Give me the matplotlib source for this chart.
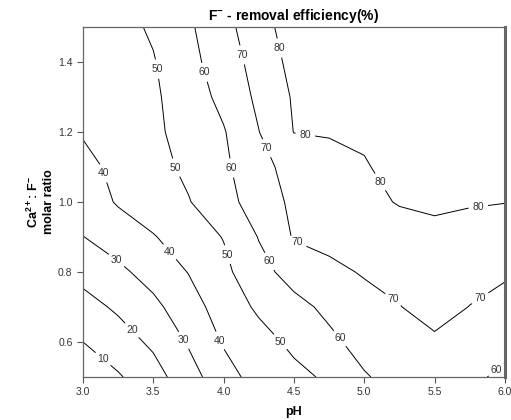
import numpy as np
import matplotlib
matplotlib.use("Agg")
import matplotlib.pyplot as plt

plt.rcParams['font.family'] = ['Liberation Sans', 'DejaVu Sans']
plt.rcParams['mathtext.default'] = 'regular'

# grid
ph = [3.0, 3.25, 3.5, 3.75, 4.0, 4.25, 4.5, 4.75, 5.0, 5.25, 5.5, 5.75, 6.0]
ratio = [0.5, 0.6, 0.7, 0.8, 0.9, 1.0, 1.1, 1.2, 1.3, 1.4, 1.5]
efficiency = [
    [2, 9, 16, 26, 36, 44, 47.5, 51.5, 59.3, 63, 65, 62, 58],
    [10, 15.6, 21.8, 30.9, 40.9, 46.4, 52.1, 58.1, 63, 66, 68.5, 67, 63],
    [16.5, 21.5, 27.6, 35.8, 44.4, 51.6, 57.3, 62, 65.8, 69.7, 73.5, 69.8, 66],
    [23.1, 27.9, 33.8, 40.3, 47.6, 57, 63.5, 67.1, 71, 73, 75.5, 73.5, 71.6],
    [29.8, 34.6, 39.4, 44.8, 50.4, 60.4, 70.8, 73.5, 75, 76.5, 78, 77.5, 77.5],
    [34.5, 40.9, 45.2, 49.5, 56.1, 65.1, 71.8, 74.8, 77.9, 80.5, 81.3, 80.5, 80.1],
    [37.5, 42.2, 46.9, 51.9, 57.9, 67.6, 72.8, 76.2, 79.4, 82.5, 84, 84, 84],
    [40.7, 44.5, 48.3, 53.3, 59.3, 69.8, 80.2, 80.8, 81.2, 84, 86, 86, 86],
    [42.5, 45.5, 48.5, 55, 62.6, 72, 81, 83, 84.5, 86, 88, 88, 88],
    [43.5, 46.5, 49.4, 57, 65, 73.7, 83, 85, 86.5, 88, 89.5, 89.5, 89.5],
    [44, 47, 51.2, 58.5, 66.9, 75.9, 85, 87, 88, 89.5, 91, 91, 91],
]
levels = [10, 20, 30, 40, 50, 60, 70, 80]

# where the reference puts its inline labels
label_spots = [
    (3.14, 0.55), (3.35, 0.634), (3.24, 0.834), (3.72, 0.606),
    (3.13, 1.08), (3.61, 0.855), (3.95, 0.60),
    (3.53, 1.38), (3.67, 1.10), (4.03, 0.85), (4.41, 0.603),
    (3.86, 1.37), (4.09, 1.10), (4.31, 0.827), (4.82, 0.608), (5.92, 0.53),
    (4.13, 1.42), (4.28, 1.149), (4.52, 0.88), (5.21, 0.724), (5.81, 0.734),
    (4.40, 1.44), (4.58, 1.19), (5.08, 1.049), (5.81, 0.99),
]


def main():
    X, Y = np.meshgrid(ph, ratio)
    Z = np.array(efficiency)

    fig = plt.figure(figsize=(5.11, 4.20), dpi=100)
    ax = fig.add_axes([0.1624, 0.1024, 0.8256, 0.8333])

    cs = ax.contour(X, Y, Z, levels=levels, colors='black', linewidths=0.7)
    labels = ax.clabel(cs, fmt='%d', fontsize=7.5, inline=True,
                       inline_spacing=4, manual=label_spots)
    for t in labels:
        t.set_color('#333333')
        t.set_rotation(0)

    ax.set_xlim(3.0, 6.0)
    ax.set_ylim(0.5, 1.5)
    ax.set_xticks([3.0, 3.5, 4.0, 4.5, 5.0, 5.5, 6.0])
    ax.set_yticks([0.6, 0.8, 1.0, 1.2, 1.4])
    ax.tick_params(direction='out', length=4, width=0.8, labelsize=7.5,
                   colors='#555555', labelcolor='#333333')

    for side in ['top', 'left', 'bottom']:
        ax.spines[side].set_color('#666666')
        ax.spines[side].set_linewidth(0.9)
    ax.spines['right'].set_color('#666666')
    ax.spines['right'].set_linewidth(2.2)

    ax.set_title('F$^{-}$ - removal efficiency(%)', fontsize=10,
                 fontweight='bold', pad=5)
    ax.set_xlabel('pH', fontsize=9, fontweight='bold', labelpad=6)
    ax.set_ylabel('Ca$^{2+}$: F$^{-}$\nmolar ratio', fontsize=9,
                  fontweight='bold', labelpad=2)

    fig.savefig('out.png', dpi=100)


if __name__ == "__main__":
    main()
